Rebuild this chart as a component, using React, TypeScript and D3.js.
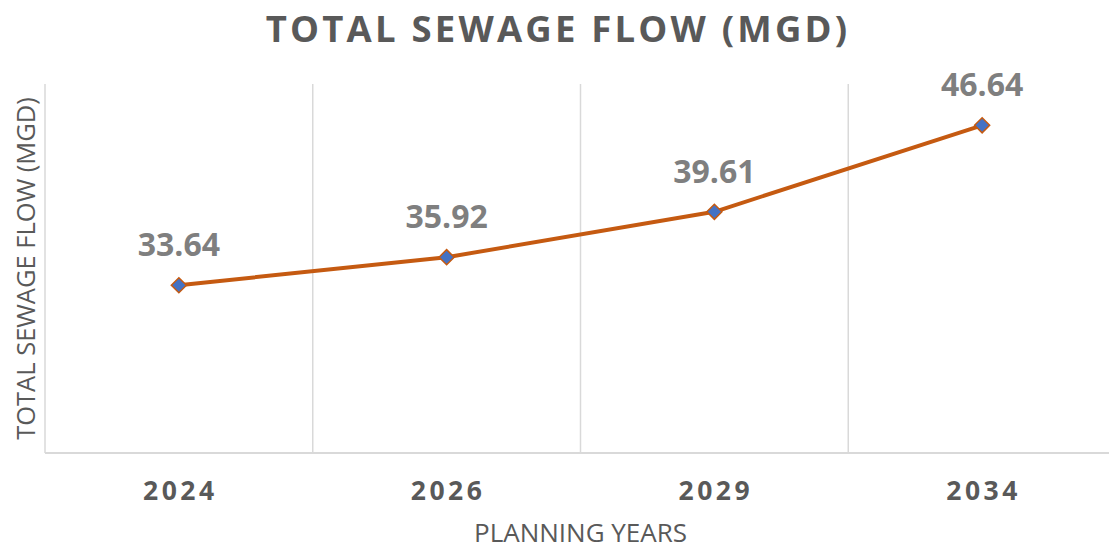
import React from "react";
import * as d3 from "d3";

const years = ["2024", "2026", "2029", "2034"];
const flows = [33.64, 35.92, 39.61, 46.64];
const yDomain = [20, 50];

const width = 1109, height = 546;
const left = 45, right = 1116, top = 84, bottom = 453;
const font = "'Open Sans', 'Noto Sans', sans-serif";

const App = () => {
  const x = d3.scaleBand<string>().domain(years).range([left, right]);
  const y = d3.scaleLinear().domain(yDomain).range([bottom, top]);

  const pts = years.map((yr, i) => ({ yr, v: flows[i] }));
  const line = d3.line<{ yr: string; v: number }>()
    .x(d => (x(d.yr) as number) + x.bandwidth() / 2)
    .y(d => y(d.v));

  const diamond = d3.symbol().type(d3.symbolDiamond2).size(145)();

  return (
    <svg width={width} height={height} style={{ display: "block", position: "absolute", left: 0, top: 0 }}>
      <rect width={width} height={height} fill="#fff" />
      <text x={558} y={42} textAnchor="middle" fontFamily={font} fontWeight="bold" fontSize={36.5} letterSpacing={3.2} fill="#595959">
        TOTAL SEWAGE FLOW (MGD)
      </text>

      {/* vertical gridlines at band edges */}
      {years.map(yr => (
        <line key={yr} x1={(x(yr) as number) + x.bandwidth()} x2={(x(yr) as number) + x.bandwidth()} y1={top} y2={bottom} stroke="#d9d9d9" strokeWidth={1.5} />
      ))}
      <line x1={left} x2={left} y1={top} y2={bottom} stroke="#d9d9d9" strokeWidth={1.5} />
      <line x1={left} x2={right} y1={bottom} y2={bottom} stroke="#d9d9d9" strokeWidth={2} />

      {years.map(yr => (
        <text key={yr} x={(x(yr) as number) + x.bandwidth() / 2 + 1.5} y={500} textAnchor="middle" fontFamily={font} fontWeight="bold" fontSize={26.5} letterSpacing={3.5} fill="#595959">
          {yr}
        </text>
      ))}

      <text x={(left + right) / 2} y={542} textAnchor="middle" fontFamily={font} fontSize={26} fill="#595959">
        PLANNING YEARS
      </text>
      <text transform={`translate(35,${(top + bottom) / 2}) rotate(-90)`} textAnchor="middle" fontFamily={font} fontSize={25.5} fill="#595959">
        TOTAL SEWAGE FLOW (MGD)
      </text>

      <path d={line(pts) as string} fill="none" stroke="#c55a11" strokeWidth={4} strokeLinejoin="round" strokeLinecap="round" />
      {pts.map(p => {
        const cx = (x(p.yr) as number) + x.bandwidth() / 2;
        const cy = y(p.v);
        return (
          <g key={p.yr}>
            <path d={diamond as string} transform={`translate(${cx},${cy})`} fill="#4472c4" stroke="#c55a11" strokeWidth={1.5} />
            <text x={cx} y={cy - 29} textAnchor="middle" fontFamily={font} fontWeight="bold" fontSize={32} fill="#7f7f7f">
              {p.v.toFixed(2)}
            </text>
          </g>
        );
      })}
    </svg>
  );
};

export default App;
